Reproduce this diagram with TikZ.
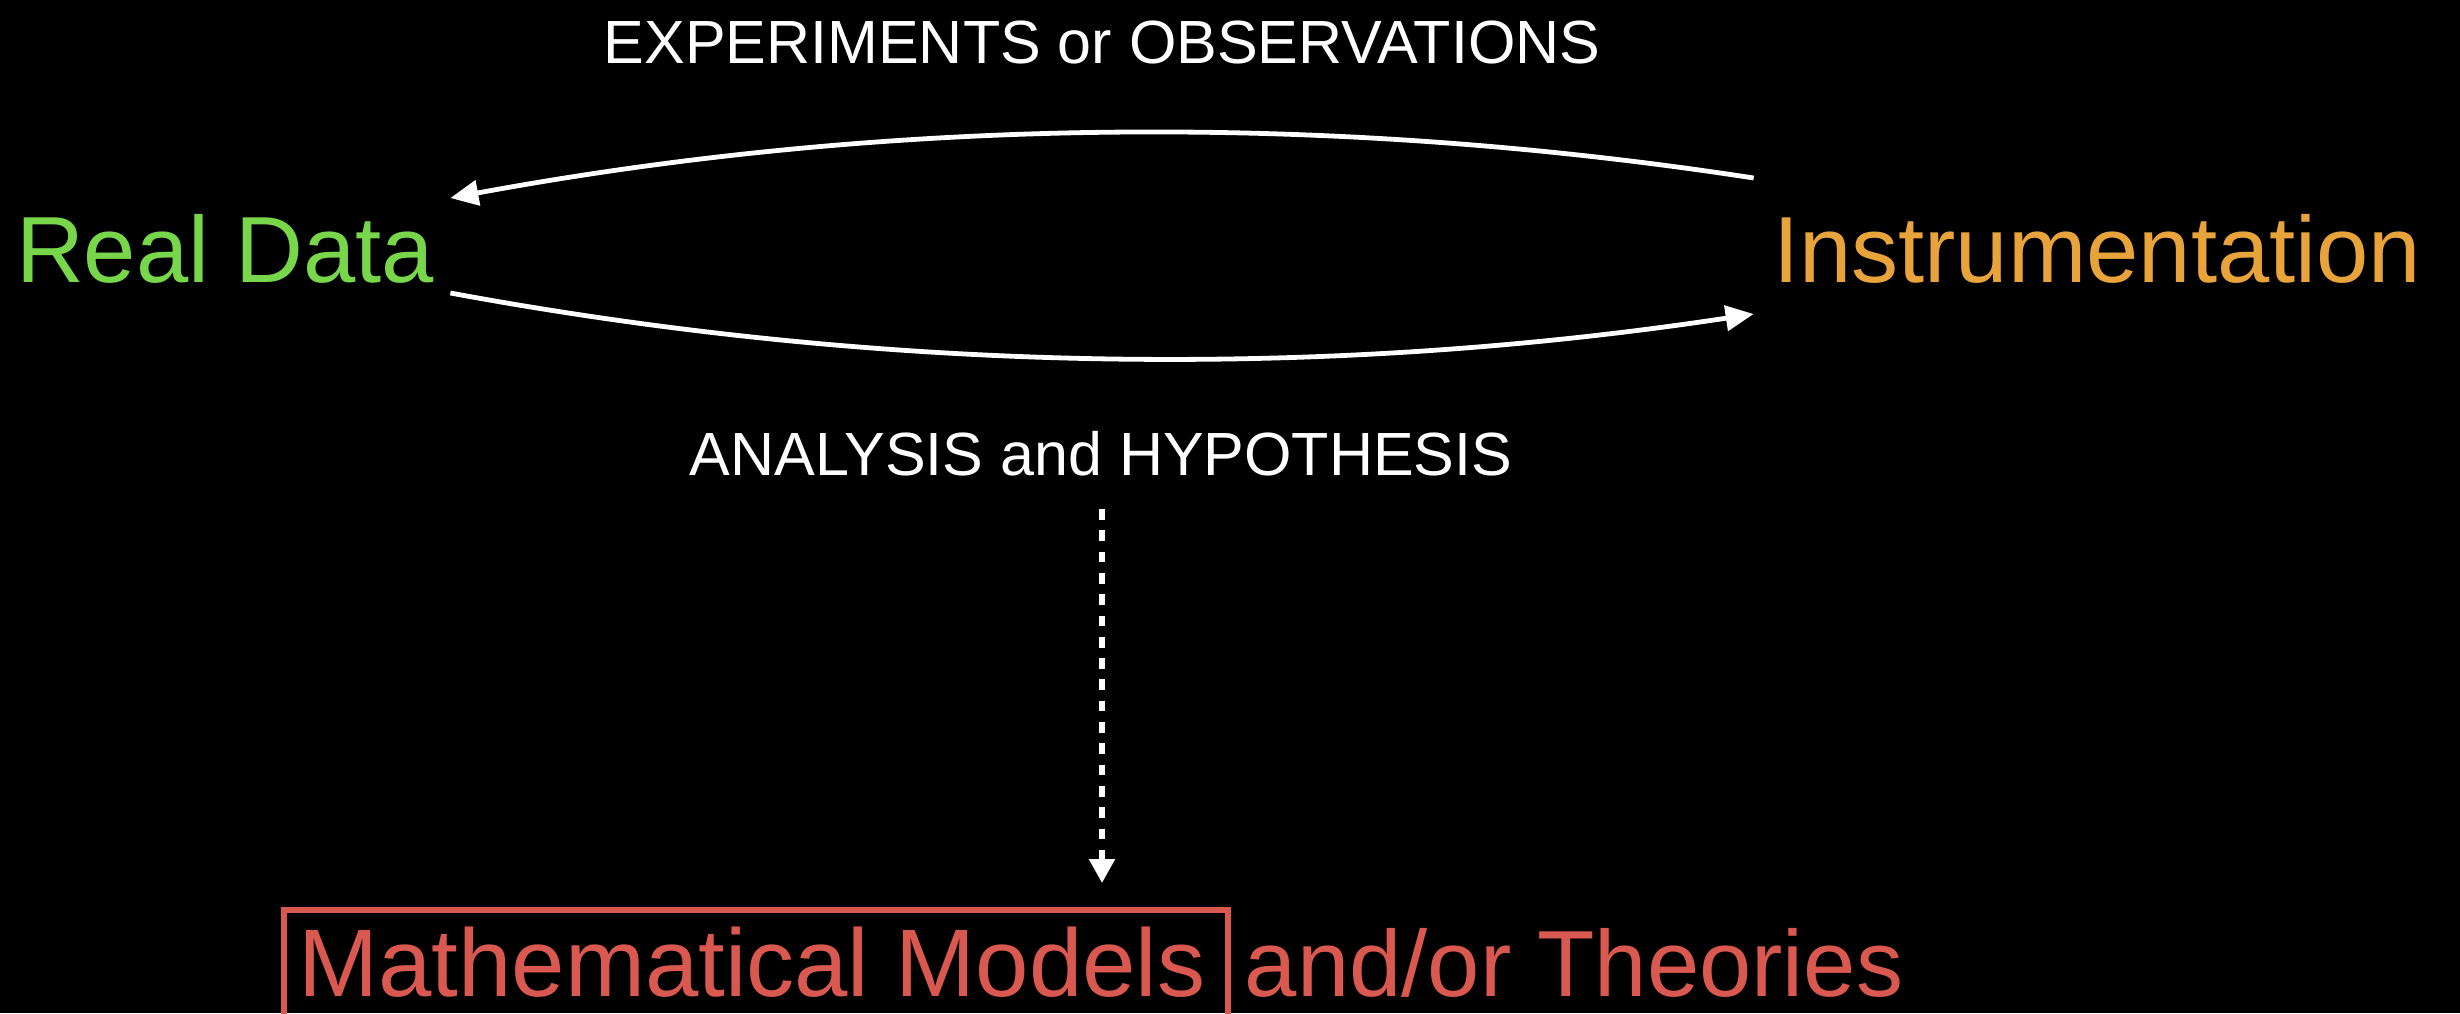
\documentclass[tikz,border=0pt]{standalone}
\usepackage{fontspec}
\setmainfont{Liberation Sans}
\usetikzlibrary{arrows.meta,calc}
\definecolor{rdgreen}{RGB}{120,214,75}
\definecolor{insorange}{RGB}{233,163,59}
\definecolor{mmred}{RGB}{217,88,80}
\begin{document}
\begin{tikzpicture}[x=0.5pt,y=-0.5pt,
  lbl/.style={inner sep=0pt,anchor=base},
  big/.style={lbl,font=\fontsize{47}{50}\selectfont},
  small/.style={lbl,text=white,font=\fontsize{30.5}{33}\selectfont},
  flow/.style={draw=white,line width=2.4pt,-{Triangle[length=14pt,width=12.5pt]}},
  dotflow/.style={draw=white,line width=2.6pt,dash pattern=on 5.35pt off 5.3pt,-{Triangle[length=12pt,width=12.5pt]}},
  boxline/.style={draw=mmred,line width=2.6pt}]
\fill[black] (0,0) rectangle (2460,1013);
\useasboundingbox (0,0) rectangle (2460,1013);

\node[big,text=rdgreen] (rd) at (225,282) {Real Data};
\node[big,text=insorange] (ins) at (2097,282) {Instrumentation};
\node[small] (exp) at (1102,63) {EXPERIMENTS or OBSERVATIONS};
\node[small] (ana) at (1101,475) {ANALYSIS and HYPOTHESIS};
\node[big,text=mmred,font=\fontsize{48}{50}\selectfont] (mm) at (752,996) {Mathematical Models};
\node[big,text=mmred] (th) at (1574,996) {and/or Theories};

\draw[flow] ($(ins.base west)+(-19,-104)$) .. controls (1318,111) and (883,118) .. ($(rd.base east)+(16,-84)$);
\draw[flow] ($(rd.base east)+(16,11)$) .. controls (883,373) and (1318,380) .. ($(ins.base west)+(-19,32)$);
\draw[dotflow] ($(ana.base)+(1,34)$) -- ($(mm.base -| ana.base)+(1,-113)$);
\draw[boxline] ($(mm.base west)+(-14,-86)$) rectangle ($(mm.base east)+(22,60)$);
\end{tikzpicture}
\end{document}
